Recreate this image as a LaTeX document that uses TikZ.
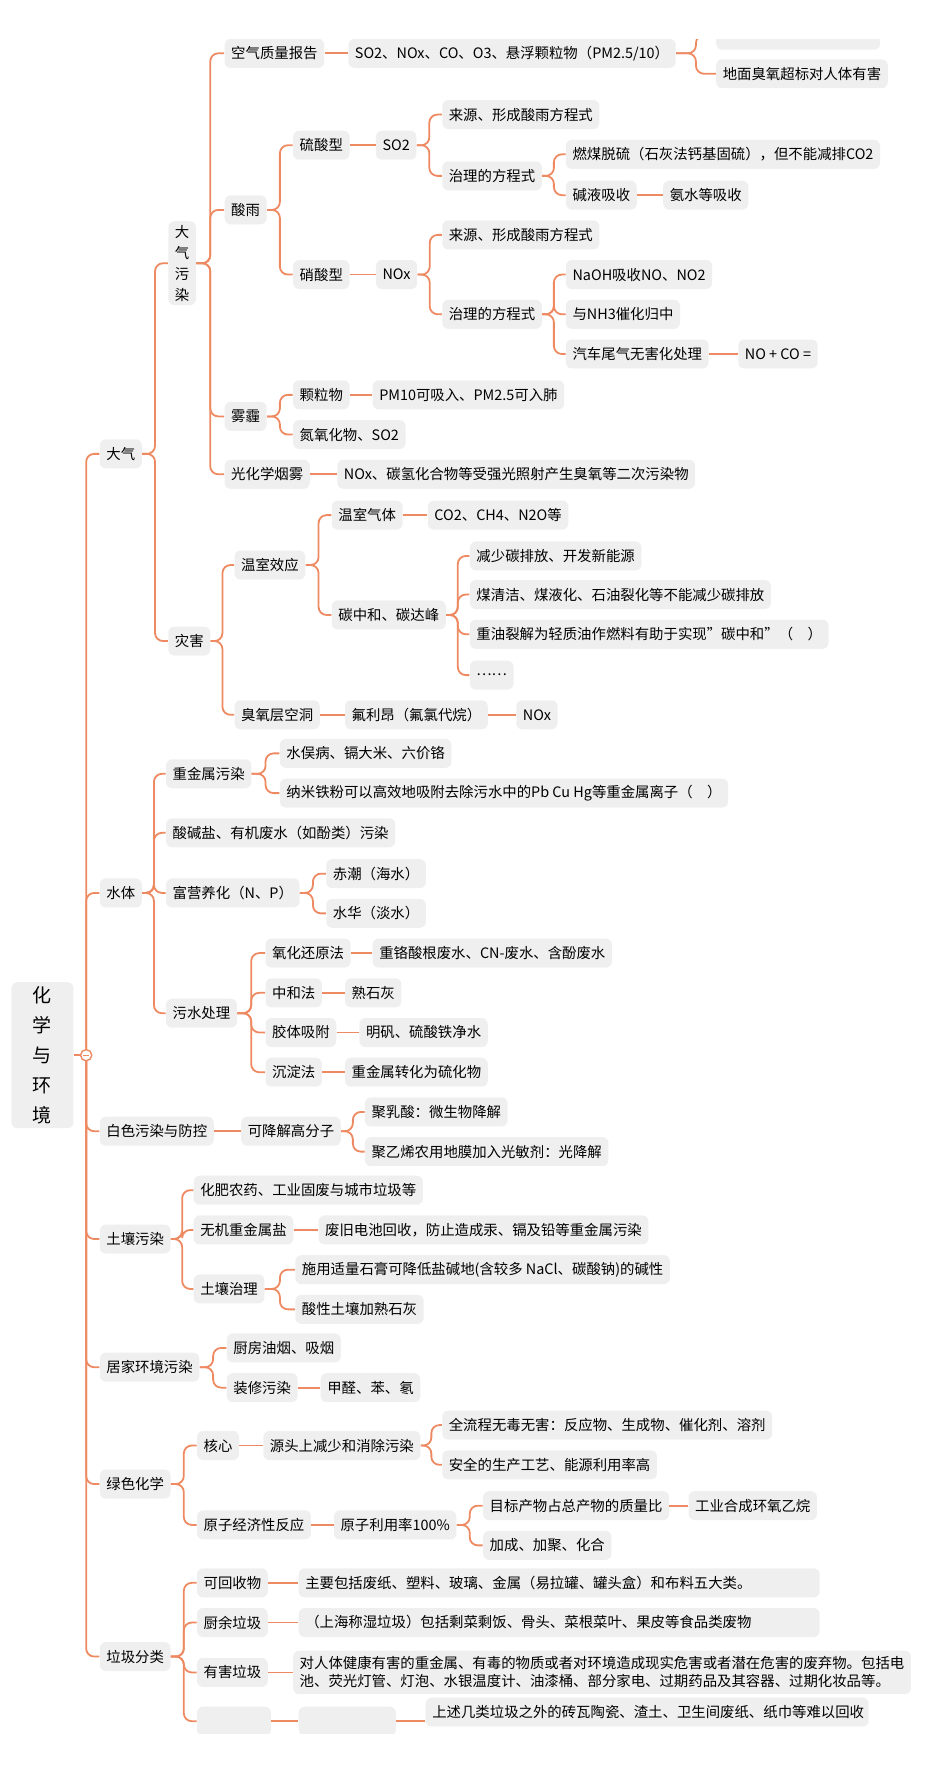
\documentclass[tikz,border=0pt]{standalone}
\usepackage{fontspec}
\setmainfont{Noto Sans CJK SC}
\usetikzlibrary{calc}
\definecolor{linkorange}{HTML}{EE8A62}
\definecolor{boxgray}{HTML}{EFEFEF}
\newcommand{\lk}[2]{\draw[link] (#1.east) -- ($(#1.east)!.5!(#1.east -| #2.west)$) |- (#2.west);}
\newcommand{\sk}[2]{\draw[link] (#1.east) -- (#1.east -| #2.west);}
\newcommand{\rk}[1]{\draw[link] (circ.center) |- (#1.west);}
\begin{document}
\begin{tikzpicture}[x=0.5525pt,y=-0.5675pt,
	topic/.style={fill=boxgray,rounded corners=3pt,anchor=west,minimum height=14.5pt,inner xsep=3.3pt,inner ysep=1pt,font=\fontsize{7.2}{9}\selectfont},
	link/.style={draw=linkorange,line width=0.9pt,rounded corners=4pt}]
	\useasboundingbox (0,0) rectangle (860,1560);
	\begin{scope}
	\clip (0,35) rectangle (860,1528);
	% root
	\node[topic,align=center,minimum width=31pt,minimum height=73pt,font=\fontsize{9.5}{15}\selectfont] (r) at (10,930) {化\\学\\与\\环\\境};
	\coordinate (circ) at (78,930);
	% level 1
	\node[topic] (dq) at (90,400) {大气};
	\node[topic] (st) at (90,787) {水体};
	\node[topic] (bs) at (90,997) {白色污染与防控};
	\node[topic] (tr) at (90,1092) {土壤污染};
	\node[topic] (jj) at (90,1205) {居家环境污染};
	\node[topic] (ls) at (90,1308) {绿色化学};
	\node[topic] (lj) at (90,1460) {垃圾分类};
	% 大气
	\node[topic,align=center,font=\fontsize{7.2}{10.5}\selectfont,minimum height=42pt] (dqwr) at (152,232) {大\\气\\污\\染};
	\node[topic] (zh) at (152,565) {灾害};
	\node[topic] (kq) at (203,47) {空气质量报告};
	\node[topic] (kqc) at (315,47) {SO2、NOx、CO、O3、悬浮颗粒物（PM2.5/10）};
	\node[topic,minimum width=82pt] (kb1) at (648,31) {};
	\node[topic] (kb2) at (648,65) {地面臭氧超标对人体有害};
	\node[topic] (sy) at (203,185) {酸雨};
	\node[topic] (lsx) at (265,128) {硫酸型};
	\node[topic] (lso) at (340,128) {SO2};
	\node[topic] (lsly) at (400,101) {来源、形成酸雨方程式};
	\node[topic] (lszl) at (400,155) {治理的方程式};
	\node[topic] (lszla) at (512,136) {燃煤脱硫（石灰法钙基固硫），但不能减排CO2};
	\node[topic] (lszlb) at (512,172) {碱液吸收};
	\node[topic] (lszlc) at (600,172) {氨水等吸收};
	\node[topic] (xsx) at (265,242) {硝酸型};
	\node[topic] (xsn) at (340,242) {NOx};
	\node[topic] (xsly) at (400,207) {来源、形成酸雨方程式};
	\node[topic] (xszl) at (400,277) {治理的方程式};
	\node[topic] (xszla) at (512,242) {NaOH吸收NO、NO2};
	\node[topic] (xszlb) at (512,277) {与NH3催化归中};
	\node[topic] (xszlc) at (512,312) {汽车尾气无害化处理};
	\node[topic] (xszld) at (668,312) {NO + CO =};
	\node[topic] (wm) at (203,367) {雾霾};
	\node[topic] (kl) at (265,348) {颗粒物};
	\node[topic] (pm) at (337,348) {PM10可吸入、PM2.5可入肺};
	\node[topic] (dy) at (265,383) {氮氧化物、SO2};
	\node[topic] (gh) at (203,418) {光化学烟雾};
	\node[topic] (ghc) at (305,418) {NOx、碳氢化合物等受强光照射产生臭氧等二次污染物};
	\node[topic] (ws) at (212,498) {温室效应};
	\node[topic] (wsqt) at (300,454) {温室气体};
	\node[topic] (wsqtc) at (387,454) {CO2、CH4、N2O等};
	\node[topic] (tzh) at (300,542) {碳中和、碳达峰};
	\node[topic] (tzha) at (425,490) {减少碳排放、开发新能源};
	\node[topic] (tzhb) at (425,524) {煤清洁、煤液化、石油裂化等不能减少碳排放};
	\node[topic] (tzhc) at (425,559) {重油裂解为轻质油作燃料有助于实现"碳中和"（\quad）};
	\node[topic] (tzhd) at (425,595) {……};
	\node[topic] (cy) at (212,630) {臭氧层空洞};
	\node[topic] (fl) at (312,630) {氟利昂（氟氯代烷）};
	\node[topic] (cyn) at (467,630) {NOx};
	% 水体
	\node[topic] (zjs) at (150,682) {重金属污染};
	\node[topic] (zjsa) at (253,664) {水俣病、镉大米、六价铬};
	\node[topic] (zjsb) at (253,699) {纳米铁粉可以高效地吸附去除污水中的Pb Cu Hg等重金属离子（\quad）};
	\node[topic] (sjy) at (150,734) {酸碱盐、有机废水（如酚类）污染};
	\node[topic] (fy) at (150,787) {富营养化（N、P）};
	\node[topic] (fya) at (295,770) {赤潮（海水）};
	\node[topic] (fyb) at (295,805) {水华（淡水）};
	\node[topic] (ws2) at (150,893) {污水处理};
	\node[topic] (yh) at (240,840) {氧化还原法};
	\node[topic] (yhc) at (337,840) {重铬酸根废水、CN-废水、含酚废水};
	\node[topic] (zhf) at (240,875) {中和法};
	\node[topic] (zhfc) at (312,875) {熟石灰};
	\node[topic] (jt) at (240,910) {胶体吸附};
	\node[topic] (jtc) at (325,910) {明矾、硫酸铁净水};
	\node[topic] (cd) at (240,945) {沉淀法};
	\node[topic] (cdc) at (312,945) {重金属转化为硫化物};
	% 白色污染
	\node[topic] (kj) at (218,997) {可降解高分子};
	\node[topic] (kja) at (330,980) {聚乳酸：微生物降解};
	\node[topic] (kjb) at (330,1015) {聚乙烯农用地膜加入光敏剂：光降解};
	% 土壤
	\node[topic] (tra) at (175,1049) {化肥农药、工业固废与城市垃圾等};
	\node[topic] (wj) at (175,1084) {无机重金属盐};
	\node[topic] (wjc) at (288,1084) {废旧电池回收，防止造成汞、镉及铅等重金属污染};
	\node[topic] (zl) at (175,1136) {土壤治理};
	\node[topic] (zla) at (267,1119) {施用适量石膏可降低盐碱地(含较多 NaCl、碳酸钠)的碱性};
	\node[topic] (zlb) at (267,1154) {酸性土壤加熟石灰};
	% 居家
	\node[topic] (cf) at (205,1188) {厨房油烟、吸烟};
	\node[topic] (zx) at (205,1223) {装修污染};
	\node[topic] (zxc) at (290,1223) {甲醛、苯、氡};
	% 绿色化学
	\node[topic] (hx) at (178,1274) {核心};
	\node[topic] (yt) at (238,1274) {源头上减少和消除污染};
	\node[topic] (yta) at (400,1256) {全流程无毒无害：反应物、生成物、催化剂、溶剂};
	\node[topic] (ytb) at (400,1291) {安全的生产工艺、能源利用率高};
	\node[topic] (yz) at (178,1344) {原子经济性反应};
	\node[topic] (yzl) at (302,1344) {原子利用率100\%};
	\node[topic] (mb) at (437,1327) {目标产物占总产物的质量比};
	\node[topic] (mbc) at (623,1327) {工业合成环氧乙烷};
	\node[topic] (jc) at (437,1362) {加成、加聚、化合};
	% 垃圾分类
	\node[topic] (kh) at (178,1395) {可回收物};
	\node[topic,text width=254pt] (khc) at (270,1395) {主要包括废纸、塑料、玻璃、金属（易拉罐、罐头盒）和布料五大类。};
	\node[topic] (cy2) at (178,1430) {厨余垃圾};
	\node[topic,text width=254pt] (cyc) at (270,1430) {（上海称湿垃圾）包括剩菜剩饭、骨头、菜根菜叶、果皮等食品类废物};
	\node[topic] (yh2) at (178,1474) {有害垃圾};
	\node[topic,align=left,inner ysep=3pt] (yhc2) at (265,1474) {对人体健康有害的重金属、有毒的物质或者对环境造成现实危害或者潜在危害的废弃物。包括电\\池、荧光灯管、灯泡、水银温度计、油漆桶、部分家电、过期药品及其容器、过期化妆品等。};
	\node[topic,minimum width=37pt] (qt) at (178,1517) {};
	\node[topic,minimum width=48.6pt] (qtb) at (270,1517) {};
	\node[topic,text width=215pt] (qtc) at (385,1509) {上述几类垃圾之外的砖瓦陶瓷、渣土、卫生间废纸、纸巾等难以回收};
	% connectors
	\draw[link] (r.east) -- (circ);
	\foreach \c in {dq,st,bs,tr,jj,ls,lj} {\rk{\c}}
	\foreach \a/\b in {dq/dqwr,dq/zh,dqwr/kq,dqwr/sy,dqwr/wm,dqwr/gh,kqc/kb1,kqc/kb2,
		sy/lsx,sy/xsx,lso/lsly,lso/lszl,lszl/lszla,lszl/lszlb,
		xsn/xsly,xsn/xszl,xszl/xszla,xszl/xszlb,xszl/xszlc,
		wm/kl,wm/dy,zh/ws,zh/cy,ws/wsqt,ws/tzh,
		tzh/tzha,tzh/tzhb,tzh/tzhc,tzh/tzhd,
		st/zjs,st/sjy,st/fy,st/ws2,zjs/zjsa,zjs/zjsb,fy/fya,fy/fyb,
		ws2/yh,ws2/zhf,ws2/jt,ws2/cd,
		kj/kja,kj/kjb,tr/tra,tr/wj,tr/zl,zl/zla,zl/zlb,
		jj/cf,jj/zx,ls/hx,ls/yz,yt/yta,yt/ytb,yzl/mb,yzl/jc,
		lj/kh,lj/cy2,lj/yh2,lj/qt}
		{\lk{\a}{\b}}
	\foreach \a/\b in {kq/kqc,lsx/lso,lszlb/lszlc,xsx/xsn,xszlc/xszld,kl/pm,gh/ghc,
		wsqt/wsqtc,cy/fl,fl/cyn,yh/yhc,zhf/zhfc,jt/jtc,cd/cdc,bs/kj,wj/wjc,zx/zxc,
		hx/yt,yz/yzl,mb/mbc,kh/khc,cy2/cyc,yh2/yhc2,qt/qtb,qtb/qtc}
		{\sk{\a}{\b}}
	\draw[linkorange,line width=0.7pt,fill=white] (circ) circle (2.8pt);
	\draw[linkorange,line width=0.7pt] ($(circ)+(-2.7,0)$) -- ($(circ)+(2.7,0)$);
	\end{scope}
\end{tikzpicture}
\end{document}
